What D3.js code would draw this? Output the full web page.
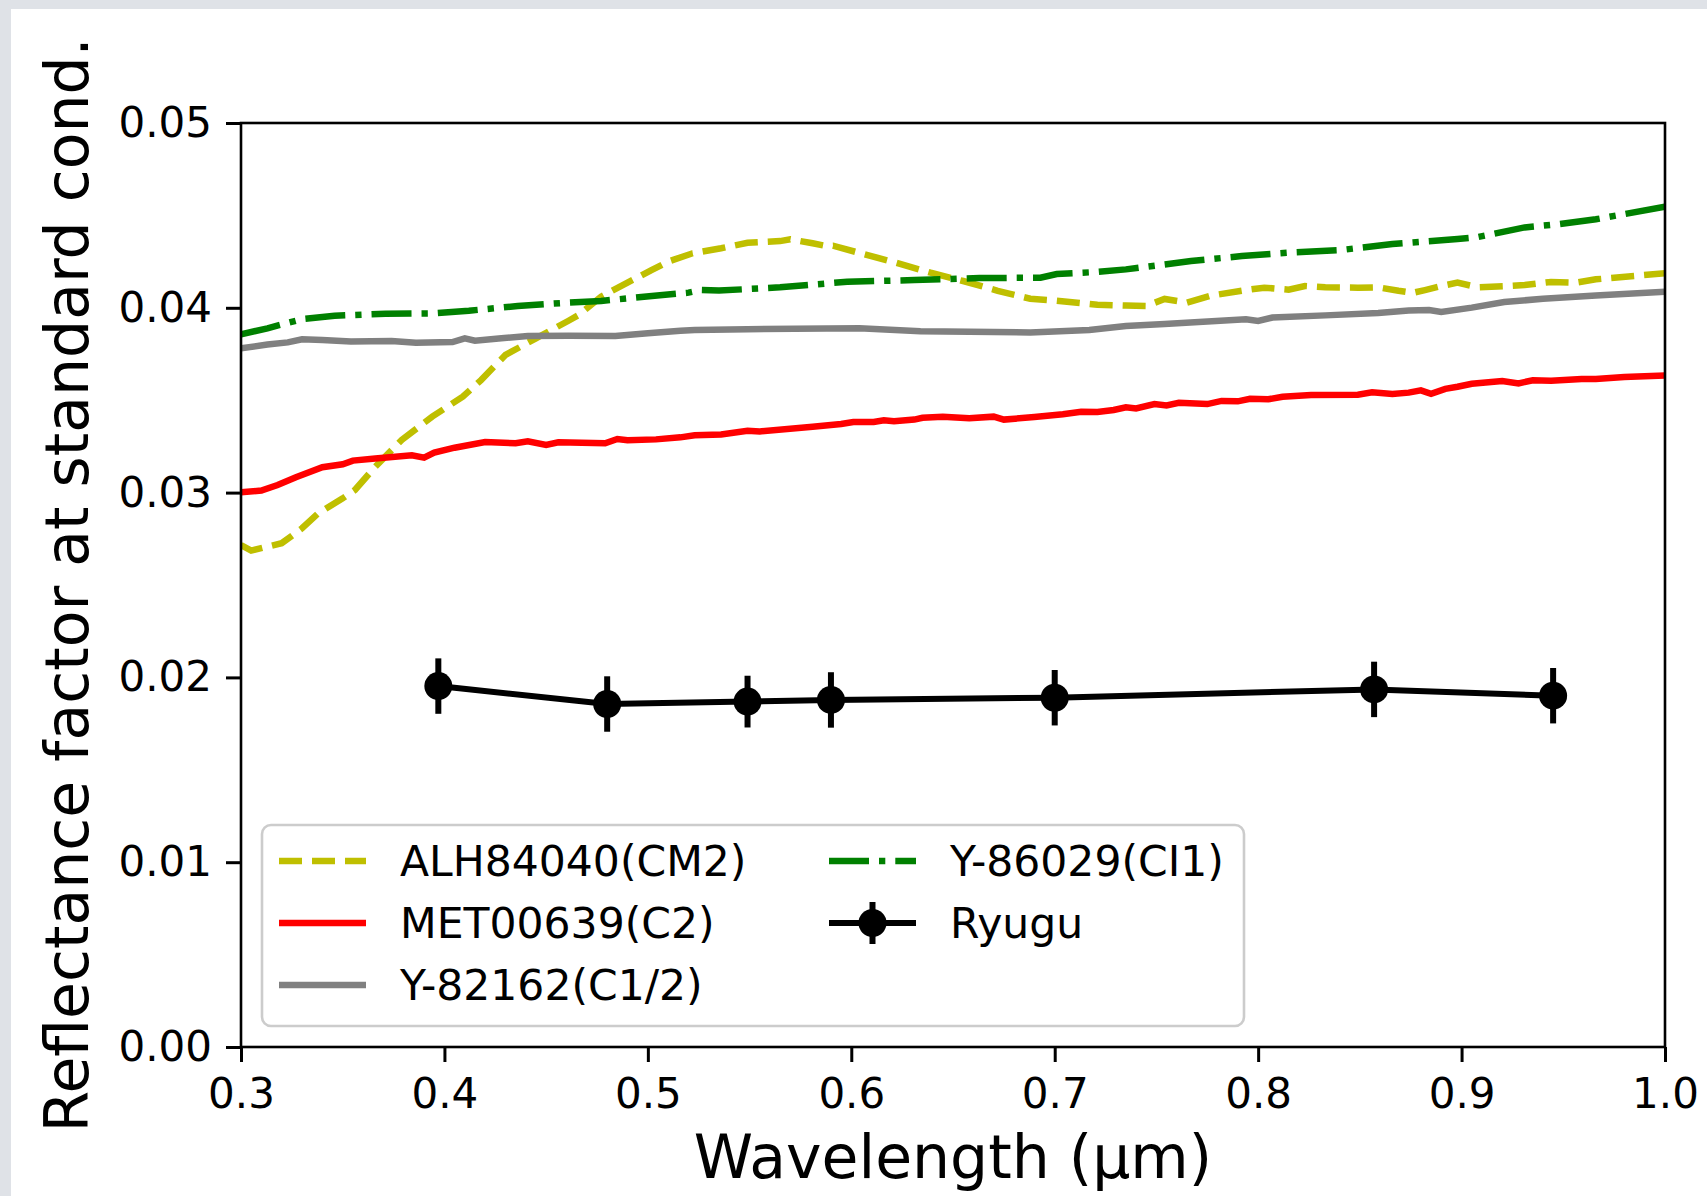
<!DOCTYPE html>
<html>
<head>
<meta charset="utf-8">
<script src="https://cdn.jsdelivr.net/npm/d3@7"></script>
<style>
body { margin: 0; background: #dfe2e7; }
svg { display: block; }
text { font-family: "DejaVu Sans", sans-serif; fill: #000; }
</style>
</head>
<body>
<div id="chart"></div>
<script>

// ALH84040(CM2)
let alhWave = [0.300,0.305,0.320,0.330,0.338,0.350,0.356,0.366,0.379,0.394,0.409,0.418,0.430,0.445,0.461,0.466,0.477,0.490,0.502,0.510,0.522,0.536,0.549,0.565,0.570,0.581,0.588,0.591,0.606,0.622,0.639,0.655,0.672,0.688,0.701,0.721,0.735,0.745,0.754,0.765,0.777,0.794,0.803,0.815,0.823,0.833,0.849,0.859,0.869,0.876,0.882,0.890,0.898,0.908,0.923,0.931,0.944,0.956,0.966,1.000];
let alhRefl = [0.02716,0.02686,0.02726,0.02807,0.02888,0.02969,0.03014,0.03140,0.03285,0.03411,0.03519,0.03609,0.03745,0.03835,0.03930,0.03961,0.04060,0.04136,0.04205,0.04250,0.04295,0.04322,0.04352,0.04361,0.04371,0.04349,0.04334,0.04336,0.04291,0.04244,0.04190,0.04145,0.04092,0.04049,0.04038,0.04017,0.04012,0.04010,0.04048,0.04028,0.04066,0.04096,0.04109,0.04098,0.04118,0.04111,0.04109,0.04111,0.04092,0.04081,0.04096,0.04118,0.04136,0.04111,0.04118,0.04123,0.04140,0.04136,0.04154,0.04187];

// MET00639(C2)
let metWave = [0.300,0.310,0.318,0.327,0.340,0.350,0.355,0.366,0.384,0.390,0.395,0.405,0.420,0.435,0.441,0.450,0.456,0.479,0.485,0.490,0.504,0.516,0.523,0.536,0.549,0.555,0.581,0.595,0.601,0.611,0.616,0.621,0.631,0.635,0.645,0.658,0.670,0.675,0.690,0.704,0.713,0.721,0.729,0.735,0.740,0.749,0.755,0.761,0.775,0.782,0.790,0.796,0.805,0.812,0.826,0.849,0.856,0.866,0.874,0.880,0.885,0.892,0.898,0.905,0.920,0.928,0.935,0.944,0.959,0.966,0.980,1.000];
let metRefl = [0.03002,0.03011,0.03041,0.03083,0.03137,0.03153,0.03173,0.03185,0.03202,0.03189,0.03216,0.03243,0.03274,0.03267,0.03278,0.03258,0.03272,0.03267,0.03290,0.03283,0.03288,0.03299,0.03310,0.03315,0.03335,0.03331,0.03356,0.03371,0.03382,0.03382,0.03391,0.03386,0.03395,0.03405,0.03411,0.03402,0.03411,0.03395,0.03409,0.03424,0.03438,0.03436,0.03447,0.03462,0.03455,0.03479,0.03472,0.03486,0.03479,0.03496,0.03494,0.03508,0.03505,0.03519,0.03528,0.03530,0.03543,0.03533,0.03541,0.03553,0.03535,0.03561,0.03573,0.03589,0.03604,0.03591,0.03608,0.03605,0.03615,0.03615,0.03625,0.03633];

// Y-82162(C1/2)
let y82Wave = [0.300,0.313,0.323,0.330,0.340,0.354,0.374,0.386,0.404,0.410,0.415,0.428,0.441,0.461,0.484,0.500,0.516,0.523,0.549,0.604,0.634,0.688,0.717,0.735,0.754,0.794,0.800,0.807,0.833,0.859,0.874,0.884,0.890,0.905,0.921,0.940,0.966,1.000];
let y82Refl = [0.03781,0.03801,0.03813,0.03830,0.03826,0.03817,0.03820,0.03811,0.03815,0.03835,0.03822,0.03835,0.03847,0.03849,0.03847,0.03862,0.03876,0.03880,0.03884,0.03889,0.03873,0.03867,0.03880,0.03902,0.03912,0.03938,0.03929,0.03947,0.03959,0.03972,0.03986,0.03988,0.03977,0.04001,0.04031,0.04049,0.04067,0.04087];

// Y-86029(CI1)
let y86Wave = [0.300,0.313,0.330,0.346,0.371,0.395,0.412,0.436,0.461,0.477,0.502,0.516,0.520,0.526,0.535,0.565,0.598,0.631,0.663,0.693,0.701,0.721,0.735,0.767,0.792,0.817,0.841,0.866,0.898,0.907,0.931,0.948,0.966,1.000];
let y86Refl = [0.03857,0.03889,0.03939,0.03957,0.03968,0.03970,0.03984,0.04010,0.04028,0.04037,0.04064,0.04078,0.04082,0.04096,0.04093,0.04111,0.04141,0.04150,0.04161,0.04163,0.04183,0.04194,0.04208,0.04253,0.04280,0.04300,0.04313,0.04345,0.04372,0.04381,0.04435,0.04453,0.04479,0.04547];

// Ryugu (ONC-T bands)
let ryuguWave = [0.397,0.480,0.549,0.590,0.700,0.857,0.945];
let ryuguRefl = [0.01953,0.01856,0.01869,0.01878,0.01890,0.01935,0.01901];
let ryuguErr = [0.0015,0.0015,0.0014,0.0015,0.0015,0.0015,0.0015];

let xTicks = [0.3,0.4,0.5,0.6,0.7,0.8,0.9,1.0];
let xTickLabels = ["0.3","0.4","0.5","0.6","0.7","0.8","0.9","1.0"];
let yTicks = [0,0.01,0.02,0.03,0.04,0.05];
let yTickLabels = ["0.00","0.01","0.02","0.03","0.04","0.05"];

let width = 1707;
let height = 1196;
// plot box edges (window.top is taken, so prefixed)
let pLeft = 241, pRight = 1665, pTop = 123, pBottom = 1047;

function zip(w, r){
    return w.map(function(d, i){ return [d, r[i]]; });
}

let series = [
    {name: "ALH84040(CM2)", data: zip(alhWave, alhRefl), color: "#bfbf00", dash: "23,10"},
    {name: "MET00639(C2)", data: zip(metWave, metRefl), color: "#ff0000", dash: null},
    {name: "Y-82162(C1/2)", data: zip(y82Wave, y82Refl), color: "#808080", dash: null},
    {name: "Y-86029(CI1)", data: zip(y86Wave, y86Refl), color: "#008000", dash: "40,10,6.3,10"}
];

let chart = d3.select("#chart")
.append("svg")
.attr("width", width)
.attr("height", height);

// white figure panel over the grey page
chart.append("rect")
.attr("x", 11).attr("y", 9)
.attr("width", width - 11).attr("height", height - 9)
.attr("fill", "#fff");

let xscale = d3.scaleLinear().domain([0.3, 1.0]).range([pLeft, pRight]);
let yscale = d3.scaleLinear().domain([0, 0.05]).range([pBottom, pTop]);

chart.append("clipPath").attr("id", "plotclip")
.append("rect")
.attr("x", pLeft).attr("y", pTop)
.attr("width", pRight - pLeft).attr("height", pBottom - pTop);

let line = d3.line()
.x(function(d){ return xscale(d[0]); })
.y(function(d){ return yscale(d[1]); });

let plot = chart.append("g").attr("clip-path", "url(#plotclip)");

plot.selectAll(".spectrum")
.data(series)
.enter()
.append("path")
.attr("class", "spectrum")
.attr("d", function(d){ return line(d.data); })
.attr("fill", "none")
.attr("stroke", function(d){ return d.color; })
.attr("stroke-width", 6.5)
.attr("stroke-dasharray", function(d){ return d.dash; });

// ryugu with error bars
let ryugu = ryuguWave.map(function(w, i){ return [w, ryuguRefl[i], ryuguErr[i]]; });

plot.append("path")
.attr("d", line(ryugu))
.attr("fill", "none")
.attr("stroke", "#000")
.attr("stroke-width", 6);

plot.selectAll(".err")
.data(ryugu)
.enter()
.append("line")
.attr("class", "err")
.attr("x1", function(d){ return xscale(d[0]); })
.attr("x2", function(d){ return xscale(d[0]); })
.attr("y1", function(d){ return yscale(d[1] - d[2]); })
.attr("y2", function(d){ return yscale(d[1] + d[2]); })
.attr("stroke", "#000")
.attr("stroke-width", 6);

plot.selectAll(".pt")
.data(ryugu)
.enter()
.append("circle")
.attr("class", "pt")
.attr("cx", function(d){ return xscale(d[0]); })
.attr("cy", function(d){ return yscale(d[1]); })
.attr("r", 14)
.attr("fill", "#000");

// axes
let xAxis = d3.axisBottom(xscale).tickValues(xTicks)
.tickFormat(function(d, i){ return xTickLabels[i]; })
.tickSizeInner(15).tickSizeOuter(0).tickPadding(16);
let yAxis = d3.axisLeft(yscale).tickValues(yTicks)
.tickFormat(function(d, i){ return yTickLabels[i]; })
.tickSizeInner(15).tickSizeOuter(0).tickPadding(14);

let gx = chart.append("g")
.attr("transform", "translate(0," + pBottom + ")")
.call(xAxis);
let gy = chart.append("g")
.attr("transform", "translate(" + pLeft + ",0)")
.call(yAxis);

[gx, gy].forEach(function(g){
    g.select(".domain").remove();
    g.selectAll(".tick line").attr("stroke", "#000").attr("stroke-width", 3);
    g.selectAll(".tick text")
    .style("font-family", "DejaVu Sans")
    .style("font-size", "42px")
    .attr("fill", "#000");
});

// spines
chart.append("rect")
.attr("x", pLeft).attr("y", pTop)
.attr("width", pRight - pLeft).attr("height", pBottom - pTop)
.attr("fill", "none")
.attr("stroke", "#000")
.attr("stroke-width", 2.6);

chart.append("text").text("Wavelength (\u00b5m)")
.attr("text-anchor", "middle")
.attr("x", (pLeft + pRight) / 2)
.attr("y", 1178)
.style("font-size", "60px");

chart.append("text").text("Reflectance factor at standard cond.")
.attr("text-anchor", "middle")
.attr("transform", "translate(88," + (pTop + pBottom) / 2 + ") rotate(-90)")
.style("font-size", "60px");

// legend
let legend = chart.append("g");
legend.append("rect")
.attr("x", 262).attr("y", 825)
.attr("width", 982).attr("height", 201)
.attr("rx", 9)
.attr("fill", "#fff").attr("fill-opacity", 0.8)
.attr("stroke", "#cccccc").attr("stroke-width", 2.6);

let rows = [861, 923, 985];
let legendItems = [
    {s: series[0], x: 279, row: 0},
    {s: series[1], x: 279, row: 1},
    {s: series[2], x: 279, row: 2},
    {s: series[3], x: 829, row: 0}
];

legendItems.forEach(function(it){
    let y = rows[it.row];
    legend.append("line")
    .attr("x1", it.x).attr("x2", it.x + 87)
    .attr("y1", y).attr("y2", y)
    .attr("stroke", it.s.color)
    .attr("stroke-width", 6.5)
    .attr("stroke-dasharray", it.s.dash);
    legend.append("text").text(it.s.name)
    .attr("x", it.x + 121).attr("y", y + 15)
    .style("font-size", "42.5px");
});

let ry = rows[1];
legend.append("line")
.attr("x1", 829).attr("x2", 916).attr("y1", ry).attr("y2", ry)
.attr("stroke", "#000").attr("stroke-width", 6);
legend.append("line")
.attr("x1", 872.5).attr("x2", 872.5).attr("y1", ry - 21).attr("y2", ry + 21)
.attr("stroke", "#000").attr("stroke-width", 6);
legend.append("circle")
.attr("cx", 872.5).attr("cy", ry).attr("r", 14).attr("fill", "#000");
legend.append("text").text("Ryugu")
.attr("x", 950).attr("y", ry + 15)
.style("font-size", "42.5px");

</script>
</body>
</html>
